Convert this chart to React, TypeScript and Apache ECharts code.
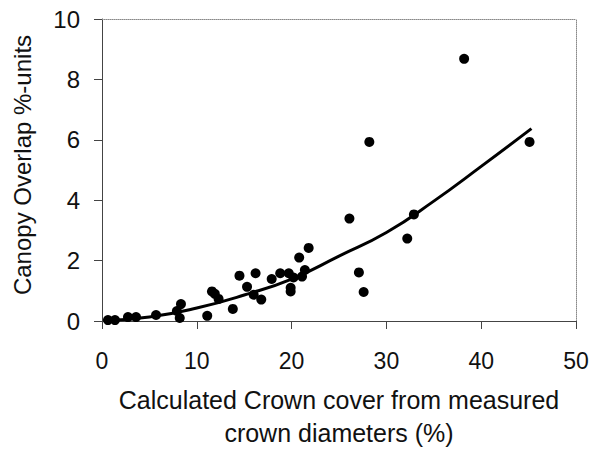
import React, { useEffect, useRef } from "react";
import * as echarts from "echarts";

const crownCover = [0.63, 1.37, 2.74, 3.59, 5.7, 7.9, 8.33, 8.2, 11.1, 11.6, 11.9, 12.3, 13.8, 14.5, 15.3, 16.2, 16.0, 16.8, 17.9, 18.8, 19.7, 19.9, 19.9, 20.2, 20.8, 21.1, 21.4, 21.8, 26.1, 27.1, 27.6, 28.2, 32.2, 32.9, 38.2, 45.1];
const overlap = [0.03, 0.03, 0.13, 0.13, 0.2, 0.33, 0.56, 0.1, 0.17, 0.98, 0.9, 0.73, 0.4, 1.5, 1.13, 1.58, 0.87, 0.71, 1.39, 1.58, 1.58, 0.98, 1.1, 1.44, 2.1, 1.47, 1.69, 2.42, 3.39, 1.61, 0.96, 5.93, 2.73, 3.53, 8.68, 5.93];

const fitX = [0.5, 5, 10, 15, 20, 25, 30, 35, 40, 45.3];
const fitY = [0.02, 0.13, 0.43, 0.86, 1.39, 2.15, 2.93, 3.97, 5.12, 6.37];

const xTicks = [0, 10, 20, 30, 40, 50];
const yTicks = [0, 2, 4, 6, 8, 10];

const FONT = "'Liberation Sans', Arial, sans-serif";

export default function App() {
  const ref = useRef<HTMLDivElement>(null);
  useEffect(() => {
    if (!ref.current) return;
    const chart = echarts.init(ref.current, null, { renderer: "svg" });
    const scatterData = crownCover.map((x, i) => [x, overlap[i]]);
    const fitData = fitX.map((x, i) => [x, fitY[i]]);
    chart.setOption({
      animation: false,
      backgroundColor: "#fff",
      grid: { left: 102, top: 19, right: 18, bottom: 131 },
      xAxis: [
        {
          type: "value",
          min: xTicks[0],
          max: xTicks[xTicks.length - 1],
          interval: 10,
          axisLine: { show: true, lineStyle: { color: "#444", width: 1 } },
          axisTick: { show: true, length: 8, lineStyle: { color: "#444" } },
          splitLine: { show: false },
          axisLabel: { color: "#111", fontSize: 23, fontFamily: FONT, margin: 28 },
          name: "Calculated Crown cover from measured\ncrown diameters (%)",
          nameLocation: "middle",
          nameGap: 62,
          nameTextStyle: { color: "#111", fontSize: 25, fontFamily: FONT, lineHeight: 33 },
        },
        {
          type: "value",
          position: "top",
          min: 0,
          max: 50,
          interval: 10,
          axisLine: { show: true, onZero: false, lineStyle: { color: "#888", type: "dotted", width: 1 } },
          axisTick: { show: false },
          axisLabel: { show: false },
          splitLine: { show: false },
        },
      ],
      yAxis: [
        {
          type: "value",
          min: yTicks[0],
          max: yTicks[yTicks.length - 1],
          interval: 2,
          axisLine: { show: true, lineStyle: { color: "#444", width: 1 } },
          axisTick: { show: true, length: 8, lineStyle: { color: "#444" } },
          splitLine: { show: false },
          axisLabel: { color: "#111", fontSize: 24, fontFamily: FONT, margin: 22 },
        },
        {
          type: "value",
          position: "right",
          min: 0,
          max: 10,
          interval: 2,
          axisLine: { show: true, onZero: false, lineStyle: { color: "#888", type: "dotted", width: 1 } },
          axisTick: { show: false },
          axisLabel: { show: false },
          splitLine: { show: false },
        },
      ],
      graphic: [
        {
          type: "text",
          x: 22,
          y: 165,
          rotation: Math.PI / 2,
          style: {
            text: "Canopy Overlap %-units",
            fill: "#111",
            font: `24px ${FONT}`,
            textAlign: "center",
            textVerticalAlign: "middle",
          },
        },
      ],
      series: [
        {
          type: "line",
          data: fitData,
          smooth: true,
          showSymbol: false,
          symbol: "none",
          lineStyle: { color: "#000", width: 3 },
          z: 2,
        },
        {
          type: "scatter",
          data: scatterData,
          symbol: "circle",
          symbolSize: 10,
          itemStyle: { color: "#000", opacity: 1 },
          z: 3,
        },
      ],
    });
    return () => chart.dispose();
  }, []);
  return <div ref={ref} style={{ width: 594, height: 454, position: "absolute", left: 0, top: 0 }} />;
}
